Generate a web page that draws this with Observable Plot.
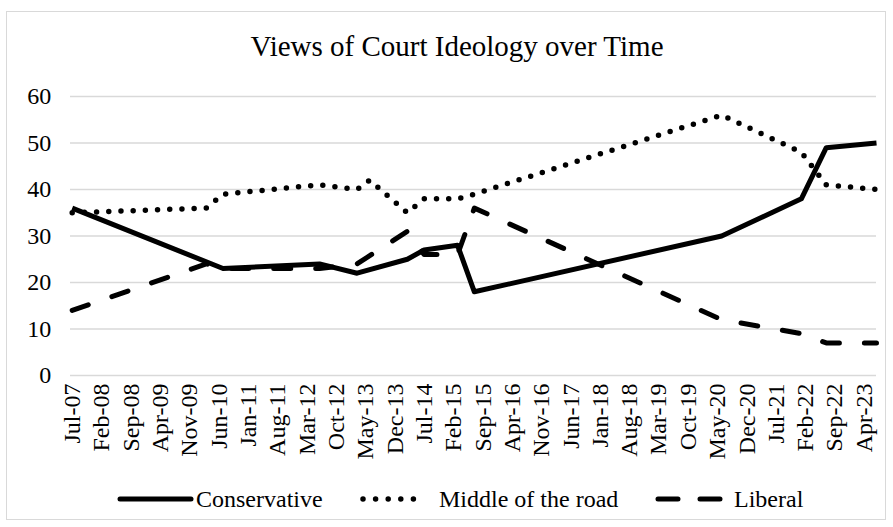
<!DOCTYPE html>
<html>
<head>
<meta charset="utf-8">
<script src="https://cdn.jsdelivr.net/npm/d3@7"></script>
<script src="https://cdn.jsdelivr.net/npm/@observablehq/plot@0.6"></script>
<style>
  html, body { margin: 0; padding: 0; background: #fff; }
  #wrap { position: relative; width: 893px; height: 527px; overflow: hidden;
          font-family: "Liberation Serif", "Times New Roman", serif; color: #000; }
  #frame { position: absolute; left: 6px; top: 11px; width: 880px; height: 509px;
           border: 1px solid #d9d9d9; box-sizing: border-box; }
  #title { position: absolute; left: 457px; top: 28px; transform: translateX(-50%);
           white-space: nowrap; font-size: 29px; line-height: 36px; }
  #chart { position: absolute; left: 0; top: 0; }
  #legend { position: absolute; left: 0; top: 477px; }
</style>
</head>
<body>
<div id="wrap">
  <div id="frame"></div>
  <div id="chart"></div>
  <div id="title">Views of Court Ideology over Time</div>
  <div id="legend"></div>
</div>
<script>
// ---- data ----
const surveyMonths = ["2007-07","2010-03","2010-07","2012-06","2013-03","2013-06","2014-03","2014-07","2015-03","2015-07","2020-06","2022-01","2022-07","2023-07"];
const conservative    = [36, null, 23, 24, 22, null, 25, 27, 28, 18, 30, 38, 49, 50];
const middleOfTheRoad = [35, 36,   39, 41, 40, 42,   35, 38, 38, 39, 56, 48, 41, 40];
const liberal         = [14, 24,   23, 23, 24, null, 31, 26, 26, 36, 12,  9,  7,  7];
const seriesNames = ["Conservative", "Middle of the road", "Liberal"];
const xTickLabels = ["Jul-07","Feb-08","Sep-08","Apr-09","Nov-09","Jun-10","Jan-11","Aug-11","Mar-12","Oct-12","May-13","Dec-13","Jul-14","Feb-15","Sep-15","Apr-16","Nov-16","Jun-17","Jan-18","Aug-18","Mar-19","Oct-19","May-20","Dec-20","Jul-21","Feb-22","Sep-22","Apr-23"];
const yTicks = [0, 10, 20, 30, 40, 50, 60];
const xDomainMonths = ["2007-07", "2023-07"];

// ---- build table ----
const parseMonth = d3.utcParse("%Y-%m");
const parseTick = d3.utcParse("%b-%y");
const seriesValues = [conservative, middleOfTheRoad, liberal];
const rows = [];
surveyMonths.forEach((m, i) => {
  seriesValues.forEach((arr, s) => {
    if (arr[i] != null) rows.push({date: parseMonth(m), value: arr[i], series: seriesNames[s]});
  });
});
const tickDates = xTickLabels.map(parseTick);
const labelOf = new Map(tickDates.map((d, i) => [+d, xTickLabels[i]]));

const styles = {
  "Conservative":       {strokeWidth: 5,   strokeDasharray: null,    strokeLinecap: "butt"},
  "Middle of the road": {strokeWidth: 5.5, strokeDasharray: "0 12.2", strokeLinecap: "round"},
  "Liberal":            {strokeWidth: 5,   strokeDasharray: "17 25",  strokeLinecap: "round"}
};

const FONT = "'Liberation Serif', 'Times New Roman', serif";

const chart = Plot.plot({
  width: 893,
  height: 470,
  marginLeft: 71.7,
  marginRight: 17,
  marginTop: 96,
  marginBottom: 95,
  x: {type: "utc", domain: xDomainMonths.map(parseMonth)},
  y: {domain: [0, 60]},
  style: {fontFamily: FONT, fontSize: "24px", color: "#000", background: "transparent", overflow: "visible"},
  marks: [
    Plot.ruleY(yTicks, {stroke: "#d9d9d9", strokeWidth: 1.5, insetLeft: -1.7}),
    Plot.axisY({ticks: yTicks, tickSize: 0, tickPadding: 21, label: null, fontSize: 24, fontFamily: FONT}),
    Plot.axisX({ticks: tickDates, tickFormat: d => labelOf.get(+d), tickRotate: -90, tickSize: 0,
                tickPadding: 8, label: null, fontSize: 24, fontFamily: FONT}),
    ...seriesNames.map(name => Plot.line(rows.filter(d => d.series === name), {
      x: "date", y: "value", stroke: "#000",
      strokeWidth: styles[name].strokeWidth,
      strokeDasharray: styles[name].strokeDasharray,
      strokeLinecap: styles[name].strokeLinecap,
      strokeLinejoin: "round"
    }))
  ]
});
document.getElementById("chart").appendChild(chart);

// ---- legend ----
const legendLayout = [
  {swatch: [120, 191], text: 196},
  {swatch: [363, 426], text: 439},
  {swatch: [658, 720], text: 734}
];
const lg = d3.select("#legend").append("svg").attr("width", 893).attr("height", 45)
  .style("overflow", "visible");
const cy = 22;
seriesNames.forEach((name, i) => {
  const L = legendLayout[i], st = styles[name];
  lg.append("line").attr("x1", L.swatch[0]).attr("x2", L.swatch[1]).attr("y1", cy).attr("y2", cy)
    .attr("stroke", "#000").attr("stroke-width", st.strokeWidth)
    .attr("stroke-linecap", name === "Conservative" ? "round" : st.strokeLinecap)
    .attr("stroke-dasharray", name === "Liberal" ? "20 22" : (name === "Middle of the road" ? "0 12.6" : null));
  lg.append("text").attr("x", L.text).attr("y", cy).attr("dy", "0.35em")
    .attr("font-family", FONT).attr("font-size", 24).text(name);
});
</script>
</body>
</html>
